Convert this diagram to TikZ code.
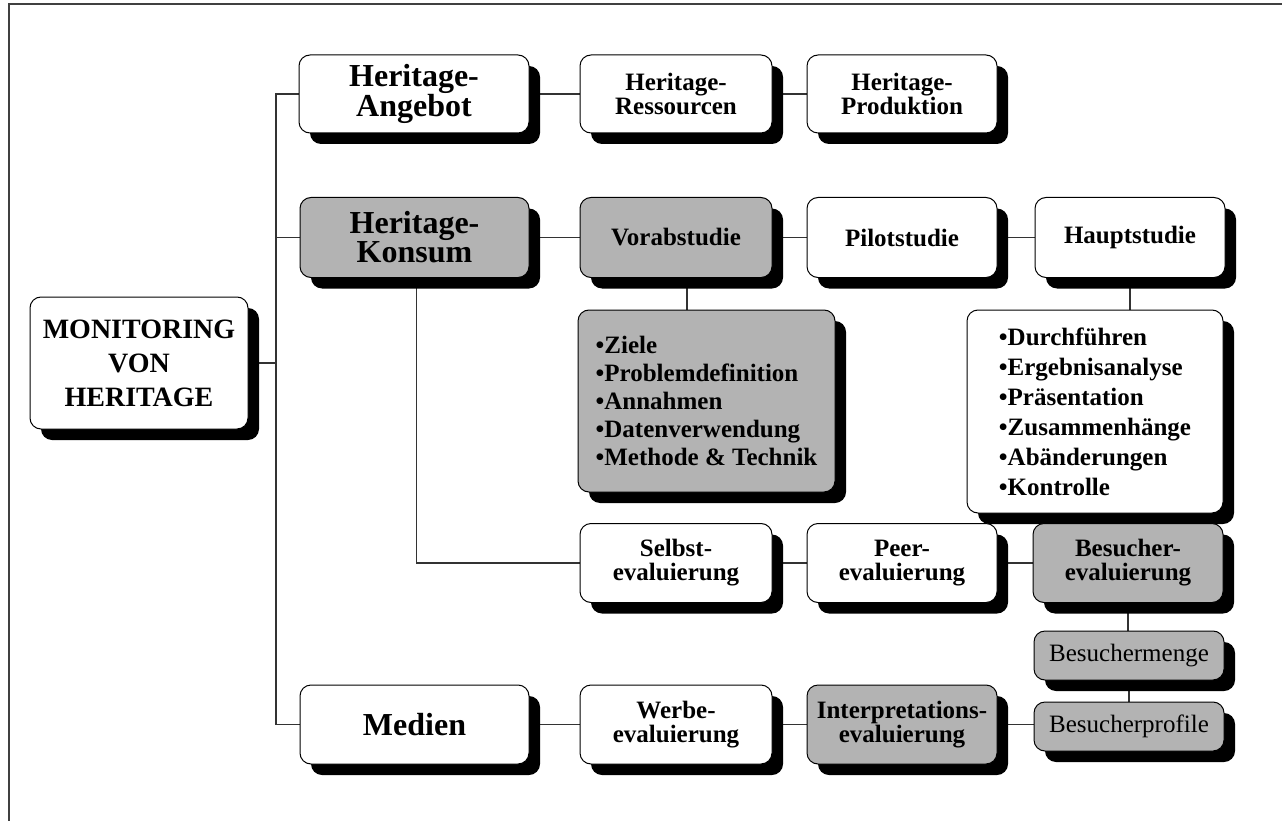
\documentclass[tikz,border=0pt]{standalone}
\usepackage{fontspec}
\setmainfont{Liberation Serif}
\usetikzlibrary{shadows,backgrounds,calc}
\definecolor{boxgray}{RGB}{179,179,179}
\begin{document}
\begin{tikzpicture}[x=1pt,y=-1pt,
  box/.style={draw=black, line width=1pt, fill=white, rounded corners=11pt,
    drop shadow={shadow xshift=11pt, shadow yshift=-11pt, fill=black, opacity=1},
    inner sep=0pt, align=center},
  grey/.style={fill=boxgray},
  bigtxt/.style={font=\bfseries\fontsize{32}{28}\selectfont},
  montxt/.style={font=\bfseries\fontsize{28}{34}\selectfont},
  midtxt/.style={font=\bfseries\fontsize{25}{24}\selectfont},
  regtxt/.style={font=\fontsize{25}{24}\selectfont},
  listtxt/.style={font=\bfseries\fontsize{25}{28}\selectfont, align=left},
  conn/.style={line width=1.1pt, draw=black!80}]
\useasboundingbox (0,0) rectangle (1282,821);

% nodes
\node[box,montxt,minimum width=218pt,minimum height=132pt] (mon) at (139,363) {MONITORING\\VON\\HERITAGE};

\node[box,bigtxt,minimum width=230pt,minimum height=78pt] (angebot) at (414,94) {Heritage-\\Angebot};
\node[box,grey,bigtxt,minimum width=229pt,minimum height=80pt] (konsum) at (414.5,237.5) {Heritage-\\Konsum};
\node[box,bigtxt,minimum width=229pt,minimum height=79pt] (medien) at (414.5,724.5) {Medien};

\node[box,midtxt,minimum width=192pt,minimum height=78pt] (ressourcen) at (676,94) {Heritage-\\Ressourcen};
\node[box,midtxt,minimum width=190pt,minimum height=78pt] (produktion) at (902,94) {Heritage-\\Produktion};

\node[box,grey,midtxt,minimum width=192pt,minimum height=80pt] (vorab) at (676,237.5) {Vorabstudie};
\node[box,midtxt,minimum width=190pt,minimum height=80pt] (pilot) at (902,237.5) {Pilotstudie};
\node[box,midtxt,minimum width=190pt,minimum height=80pt] (haupt) at (1130,237.5) {Hauptstudie};

\node[box,grey,listtxt,minimum width=257pt,minimum height=182pt] (vorablist) at (706.5,401)
  {•Ziele\\•Problemdefinition\\•Annahmen\\•Datenverwendung\\•Methode \& Technik};
\node[box,listtxt,font=\bfseries\fontsize{25}{30}\selectfont,minimum width=256pt,minimum height=203pt] (hauptlist) at (1095,411.5)
  {•Durchführen\\•Ergebnisanalyse\\•Präsentation\\•Zusammenhänge\\•Abänderungen\\•Kontrolle};

\node[box,midtxt,minimum width=192pt,minimum height=79pt] (selbst) at (676,563) {Selbst-\\evaluierung};
\node[box,midtxt,minimum width=190pt,minimum height=79pt] (peer) at (902,563) {Peer-\\evaluierung};
\node[box,grey,midtxt,minimum width=190pt,minimum height=79pt] (besucher) at (1128,563) {Besucher-\\evaluierung};

\node[box,grey,regtxt,minimum width=190pt,minimum height=49pt] (menge) at (1129,655.5) {Besuchermenge};
\node[box,grey,regtxt,minimum width=190pt,minimum height=49pt] (profile) at (1129,726.5) {Besucherprofile};

\node[box,midtxt,minimum width=192pt,minimum height=79pt] (werbe) at (676,724.5) {Werbe-\\evaluierung};
\node[box,grey,midtxt,minimum width=190pt,minimum height=79pt] (interp) at (902,724.5) {Interpretations-\\evaluierung};

\coordinate (trunk) at (276,363);

\begin{pgfonlayer}{background}
  \draw[line width=1.5pt, black!75] (9,821) -- (9,4) -- (1282,4);
  \draw[conn] (mon.east) -- (trunk);
  \draw[conn] (angebot.west) -| (trunk) |- (medien.west);
  \draw[conn] (konsum.west) -- (konsum.west -| trunk);
  \draw[conn] (angebot) -- (ressourcen);
  \draw[conn] (ressourcen) -- (produktion);
  \draw[conn] (konsum) -- (vorab);
  \draw[conn] (vorab) -- (pilot);
  \draw[conn] (pilot) -- (haupt);
  \draw[conn] ([xshift=11pt]vorab.south) -- ([xshift=11pt]vorab.south |- vorablist.north);
  \draw[conn] (haupt.south) -- (haupt.south |- hauptlist.north);
  \draw[conn] ([xshift=2pt]konsum.south) |- (selbst.west);
  \draw[conn] (selbst) -- (peer);
  \draw[conn] (peer) -- (besucher);
  \draw[conn] (besucher.south) -- (besucher.south |- menge.north);
  \draw[conn] (menge) -- (profile);
  \draw[conn] (medien) -- (werbe);
  \draw[conn] (werbe) -- (interp);
  \draw[conn] (interp.east) -- (interp.east -| profile.west);
\end{pgfonlayer}
\end{tikzpicture}
\end{document}
